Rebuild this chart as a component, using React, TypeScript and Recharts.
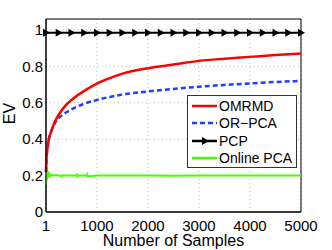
import { LineChart, Line, XAxis, YAxis, CartesianGrid, ReferenceArea } from "recharts";

// sample positions along the x axis
const curveX = [1, 10, 25, 50, 100, 150, 200, 300, 400, 500, 750, 1000, 1250, 1500, 2000, 2500, 3000, 3500, 4000, 4500, 5000];
const omrmdY = [0.22, 0.29, 0.34, 0.39, 0.44, 0.48, 0.51, 0.555, 0.59, 0.615, 0.665, 0.705, 0.735, 0.76, 0.79, 0.81, 0.83, 0.842, 0.852, 0.862, 0.87];
const orpcaY = [0.22, 0.29, 0.34, 0.39, 0.44, 0.475, 0.5, 0.528, 0.548, 0.563, 0.595, 0.615, 0.632, 0.645, 0.662, 0.676, 0.688, 0.698, 0.706, 0.714, 0.72];

const pcpX = [1, 250, 500, 750, 1000, 1250, 1500, 1750, 2000, 2250, 2500, 2750, 3000, 3250, 3500, 3750, 4000, 4250, 4500, 4750, 5000];
const pcpY = [0.985, 0.985, 0.985, 0.985, 0.985, 0.985, 0.985, 0.985, 0.985, 0.985, 0.985, 0.985, 0.985, 0.985, 0.985, 0.985, 0.985, 0.985, 0.985, 0.985, 0.985];

const onlineX = [1, 5, 10, 15, 20, 30, 45, 60, 80, 100, 150, 200, 300, 350, 400, 600, 610, 620, 630, 800, 810, 820, 1000, 1500, 2000, 2500, 3000, 3500, 4000, 4500, 5000];
const onlineY = [0.15, 0.25, 0.17, 0.23, 0.18, 0.22, 0.19, 0.21, 0.195, 0.205, 0.2, 0.203, 0.198, 0.202, 0.2, 0.2, 0.21, 0.192, 0.2, 0.2, 0.206, 0.195, 0.2, 0.201, 0.2, 0.199, 0.201, 0.2, 0.2, 0.201, 0.2];

const xTicks = [1, 1000, 2000, 3000, 4000, 5000];
const yTicks = [0, 0.2, 0.4, 0.6, 0.8, 1];

const toPoints = (xs: number[], ys: number[]) => xs.map((x, i) => ({ x, y: ys[i] }));

const font = "'Liberation Sans', Arial, sans-serif";

const legendItems = [
  { name: "OMRMD", color: "#ff0000", dash: undefined as string | undefined, marker: false },
  { name: "OR\u2212PCA", color: "#2040ff", dash: "5 3", marker: false },
  { name: "PCP", color: "#000000", dash: undefined, marker: true },
  { name: "Online PCA", color: "#44ff00", dash: undefined, marker: false },
];

const Triangle = (props: any) => {
  const { cx, cy } = props;
  if (cx == null || cy == null) return null;
  return <path d={`M${cx - 3},${cy - 4}L${cx + 4},${cy}L${cx - 3},${cy + 4}Z`} fill="#000" />;
};

const EvLabel = (props: any) => {
  const vb = props.viewBox || { y: 19, height: 193 };
  const cy = vb.y + vb.height / 2 - 2;
  return (
    <text x={15} y={cy} transform={`rotate(-90 15 ${cy})`} textAnchor="middle" fill="#000" fontSize={16} fontFamily={font}>
      EV
    </text>
  );
};

export default function App() {
  return (
    <div style={{ position: "absolute", left: 0, top: 0, width: 332, height: 250, background: "#fff", fontFamily: font }}>
      <LineChart width={332} height={250} margin={{ top: 19, right: 31, bottom: 0, left: 0 }}>
        <CartesianGrid stroke="#bbb" strokeDasharray="1 3" />
        <XAxis
          dataKey="x"
          type="number"
          domain={[1, 5000]}
          ticks={xTicks}
          height={38}
          stroke="#000"
          tickLine={false}
          tickSize={0}
          tickMargin={8}
          tick={{ fill: "#000", fontSize: 15, fontFamily: font }}
          label={{ value: "Number of Samples", position: "insideBottom", offset: 4, fill: "#000", fontSize: 16, fontFamily: font }}
        />
        <YAxis
          type="number"
          domain={[0, 1.06]}
          ticks={yTicks}
          width={46}
          stroke="#000"
          tickLine={false}
          tickSize={0}
          tickMargin={3}
          tickFormatter={(v: number) => String(v)}
          tick={{ fill: "#000", fontSize: 15, fontFamily: font }}
          label={<EvLabel />}
        />
        <ReferenceArea x1={1} x2={5000} y1={0} y2={1.06} fill="none" stroke="#000" strokeWidth={1} />
        <Line data={toPoints(onlineX, onlineY)} dataKey="y" stroke="#44ff00" strokeWidth={2} dot={false} isAnimationActive={false} />
        <Line type="monotone" data={toPoints(curveX, orpcaY)} dataKey="y" stroke="#2040ff" strokeWidth={2.5} strokeDasharray="5 3" dot={false} isAnimationActive={false} />
        <Line type="monotone" data={toPoints(curveX, omrmdY)} dataKey="y" stroke="#ff0000" strokeWidth={2.5} dot={false} isAnimationActive={false} />
        <Line data={toPoints(pcpX, pcpY)} dataKey="y" stroke="#000" strokeWidth={2} dot={<Triangle />} isAnimationActive={false} />
      </LineChart>
      <div
        style={{
          position: "absolute",
          left: 187,
          top: 95,
          width: 110,
          height: 73,
          border: "1px solid #333",
          background: "#fff",
          boxSizing: "border-box",
          paddingTop: 1,
        }}
      >
        {legendItems.map((it) => (
          <div key={it.name} style={{ display: "flex", alignItems: "center", height: 17.5, fontSize: 14, color: "#000", whiteSpace: "nowrap" }}>
            <svg width={26} height={10} style={{ marginLeft: 4 }}>
              <line x1={0} y1={5} x2={25} y2={5} stroke={it.color} strokeWidth={2.5} strokeDasharray={it.dash} />
              {it.marker && <path d="M10,1L17,5L10,9Z" fill="#000" />}
            </svg>
            <span style={{ marginLeft: 1 }}>{it.name}</span>
          </div>
        ))}
      </div>
    </div>
  );
}
